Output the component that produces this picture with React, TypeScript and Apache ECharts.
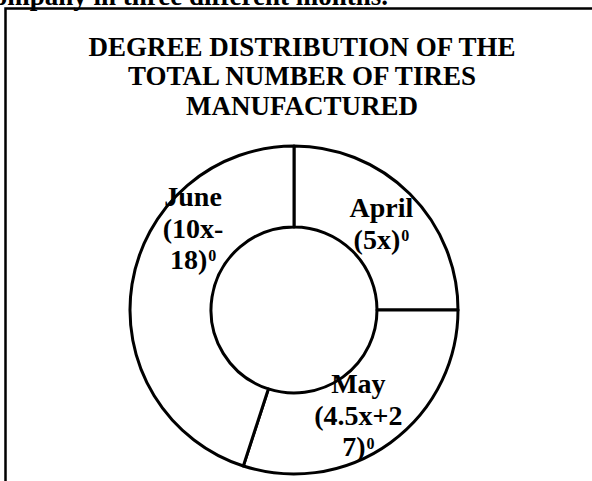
import React, { useEffect, useRef } from "react";
import * as echarts from "echarts";

const months = ["April", "May", "June"];
const degrees = [90, 108, 162];
const labelLines = [
  ["April", "(5x)"],
  ["May", "(4.5x+2", "7)"],
  ["June", "(10x-", "18)"],
];
const titleText = "DEGREE DISTRIBUTION OF THE\nTOTAL NUMBER OF TIRES\nMANUFACTURED";
const topText = "company in three different months.";

const labelOffsets = [
  [-2, 3],
  [-10, 3],
  [24, -62],
];

export default function App() {
  const ref = useRef<HTMLDivElement>(null);
  useEffect(() => {
    if (!ref.current) return;
    const chart = echarts.init(ref.current, null, { renderer: "svg" });
    const font = "'Liberation Serif', 'Times New Roman', serif";
    chart.setOption({
      animation: false,
      backgroundColor: "#fff",
      graphic: [
        {
          type: "polyline",
          shape: { points: [[5.5, 481], [5.5, 8.5], [592, 8.5]] },
          style: { stroke: "#000", lineWidth: 2.5, fill: null },
          silent: true,
        },
        {
          type: "text",
          x: 388,
          y: -4,
          style: {
            text: topText,
            font: `bold 27px ${font}`,
            fill: "#000",
            textAlign: "right",
            textVerticalAlign: "middle",
          },
          silent: true,
        },
        {
          type: "text",
          x: 302,
          y: 32,
          style: {
            text: titleText,
            font: `bold 27px ${font}`,
            lineHeight: 29.5,
            fill: "#000",
            textAlign: "center",
            textVerticalAlign: "top",
          },
          silent: true,
        },
      ],
      series: [
        {
          type: "pie",
          center: [294, 310],
          radius: [83, 164],
          startAngle: 90,
          clockwise: true,
          silent: true,
          emphasis: { disabled: true },
          itemStyle: { color: "#fff", borderColor: "#000", borderWidth: 3 },
          labelLine: { show: false },
          label: {
            show: true,
            position: "inside",
            color: "#000",
            fontFamily: font,
            fontWeight: "bold",
            formatter: (p: any) => {
              const lines = labelLines[p.dataIndex];
              return lines
                .map((l, i) => (i === lines.length - 1 ? `{a|${l}}{s|0}` : `{a|${l}}`))
                .join("\n");
            },
            rich: {
              a: { fontSize: 28, lineHeight: 31.5, fontFamily: font, fontWeight: "bold", color: "#000" },
              s: {
                fontSize: 16,
                lineHeight: 16,
                verticalAlign: "top",
                padding: [4, 0, 0, 1],
                fontFamily: font,
                fontWeight: "bold",
                color: "#000",
              },
            },
          },
          labelLayout: (params: any) => {
            const o = labelOffsets[params.dataIndex];
            return { dx: o[0], dy: o[1] };
          },
          data: months.map((m, i) => ({ name: m, value: degrees[i] })),
        },
      ],
    });
    return () => chart.dispose();
  }, []);
  return (
    <div
      ref={ref}
      style={{ position: "fixed", left: 0, top: 0, width: 592, height: 481 }}
    />
  );
}
